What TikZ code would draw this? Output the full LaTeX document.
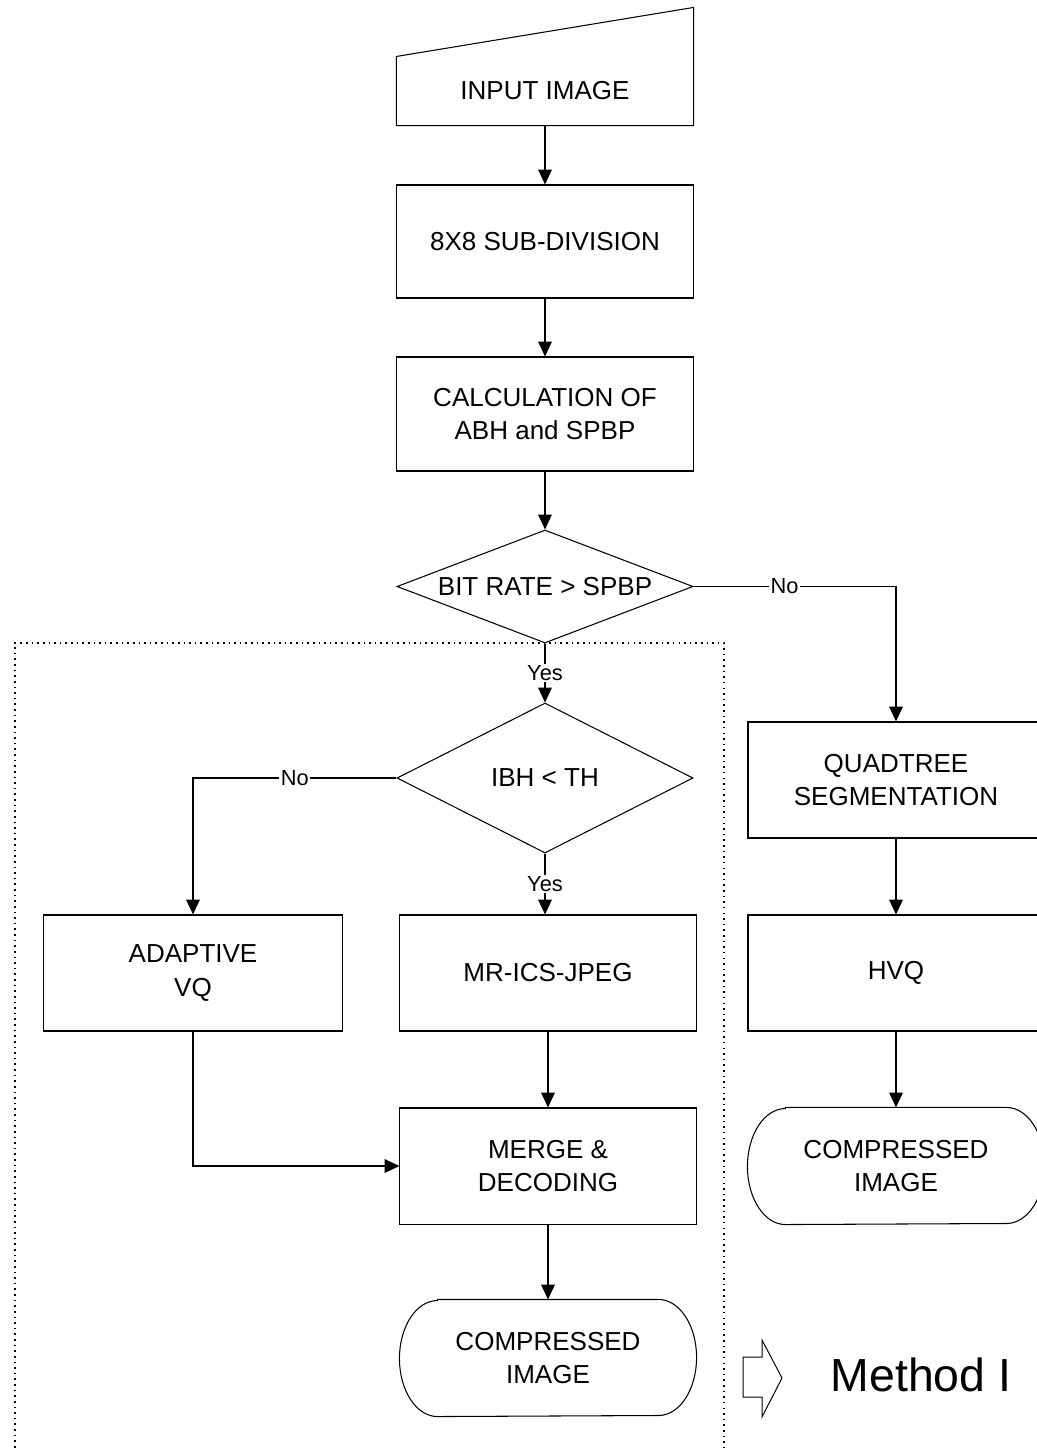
\documentclass[tikz,border=0pt]{standalone}
\usepackage{fontspec}
\setmainfont{Liberation Sans}
\usetikzlibrary{shapes.geometric,arrows.meta}
% outline of a terminal (stadium with elliptic ends) around a named node
\newcommand\drawterminal[1]{%
  \draw ([xshift=0.95cm]#1.north west) -- ([xshift=-0.95cm]#1.north east)
    arc[start angle=90,end angle=-90,x radius=0.95cm,y radius=1.45cm]
    -- ([xshift=0.95cm]#1.south west)
    arc[start angle=270,end angle=90,x radius=0.95cm,y radius=1.45cm] -- cycle;}
\begin{document}
\begin{tikzpicture}[x=0.025cm,y=-0.025cm,
  line width=0.75pt,
  every node/.style={font=\fontsize{18.5}{23.5}\selectfont, align=center},
  box/.style={draw, rectangle, minimum width=7.4cm, minimum height=2.9cm, inner sep=0pt},
  term/.style={rectangle, minimum width=7.4cm, minimum height=2.9cm, inner sep=0pt},
  decision/.style={draw, diamond, minimum width=7.4cm, inner sep=0pt},
  flow/.style={-{Triangle[length=0.37cm,width=0.34cm]}},
  tag/.style={fill=white, inner sep=1pt, font=\fontsize{15.5}{18}\selectfont},
  dotframe/.style={dash pattern=on 1.1pt off 2.9pt, line width=1pt}
]
\useasboundingbox (0,0) rectangle (1037,1452);
\clip (0,0) rectangle (1037,1452);

% enclosing frame of the first method
\draw[dotframe] (15,1470) -- (15,643) -- (724,643) -- (724,1470);

% input (manual input shape)
\node[rectangle, minimum width=7.4cm, minimum height=1.7cm, inner sep=0pt] (in) at (545,91) {INPUT IMAGE};
\draw (in.south west) -- (in.south east) -- ([yshift=1.225cm]in.north east) -- (in.north west) -- cycle;

\node[box, minimum height=2.825cm] (sub) at (545,241.5) {8X8 SUB-DIVISION};
\node[box, minimum height=2.85cm] (calc) at (545,414) {CALCULATION OF\\ABH and SPBP};
\node[decision, minimum height=2.825cm, aspect=2.62] (d1) at (545,586.5) {BIT RATE > SPBP};
\node[decision, minimum height=3.75cm, aspect=1.97] (d2) at (545,778) {IBH < TH};

\node[box, minimum width=7.45cm] (avq) at (193,973) {ADAPTIVE\\VQ};
\node[box] (mr) at (548,973) {MR-ICS-JPEG};
\node[box] (merge) at (548,1166) {MERGE \&\\DECODING};
\node[term] (comp1) at (548,1358) {COMPRESSED\\IMAGE};
\drawterminal{comp1}

\node[box] (quad) at (896,780) {QUADTREE\\SEGMENTATION};
\node[box] (hvq) at (896,973) {HVQ};
\node[term] (comp2) at (896,1166) {COMPRESSED\\IMAGE};
\drawterminal{comp2}

% connectors
\draw[flow] (in) -- (sub);
\draw[flow] (sub) -- (calc);
\draw[flow] (calc) -- (d1);
\draw[flow] (d1.south) -- node[tag]{Yes} (d2.north);
\draw[flow] (d1.east) -- node[tag, pos=0.45]{No} (d1.east -| quad.north) -- (quad.north);
\draw[flow] (d2.west) -- node[tag]{No} (d2.west -| avq.north) -- (avq.north);
\draw[flow] (d2.south) -- node[tag]{Yes} (d2.south |- mr.north);
\draw[flow] (mr) -- (merge);
\draw[flow] (avq.south) |- (merge.west);
\draw[flow] (merge) -- (comp1);
\draw[flow] (quad) -- (hvq);
\draw[flow] (hvq) -- (comp2);

% legend
\draw[line width=0.7pt] (743,1357) -- (762,1357) -- (762,1340) -- (782,1378)
  -- (762,1417) -- (762,1397) -- (743,1397) -- cycle;
\node[font=\fontsize{33}{40}\selectfont] (method) at (921,1375) {Method I};
\end{tikzpicture}
\end{document}
